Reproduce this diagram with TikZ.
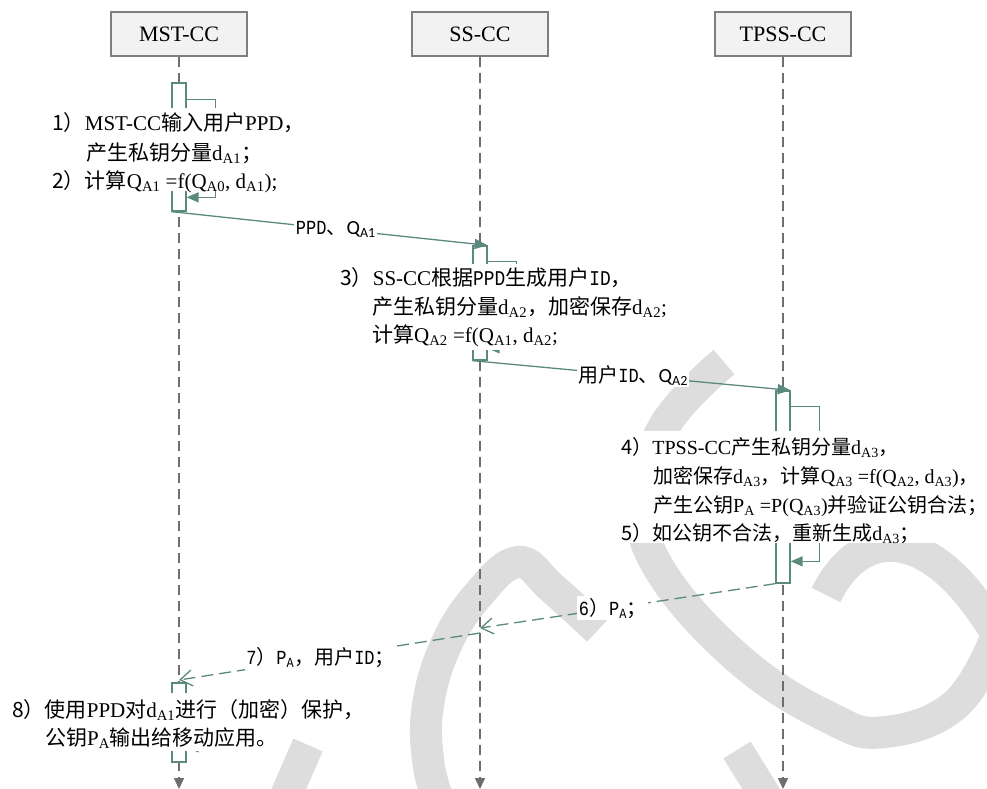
\documentclass[tikz,border=0pt]{standalone}
\usepackage{fontspec}
\setmainfont{Liberation Serif}
\newfontfamily\cjkfont{Noto Sans CJK SC}
\newfontfamily\narrowfont[FakeStretch=0.85]{Liberation Mono}
\newfontfamily\calfont{Carlito}
\usetikzlibrary{arrows.meta,calc}
\newcommand\zh[1]{{\cjkfont #1}}
\newcommand\sub[1]{\textsubscript{#1}}
\definecolor{msg}{RGB}{90,138,125}
\definecolor{life}{RGB}{110,110,110}
\definecolor{wm}{RGB}{221,221,221}
\definecolor{boxfill}{RGB}{242,242,242}
\definecolor{boxline}{RGB}{127,127,127}
\tikzset{
 actor/.style={draw=boxline, fill=boxfill, line width=2pt, minimum width=136pt, minimum height=44pt, font=\fontsize{22}{24}\selectfont, inner sep=0pt},
 lifeline/.style={draw=life, line width=1.5pt, dash pattern=on 10pt off 6pt, -{Triangle[length=11pt,width=10pt]}},
 actbar/.style={draw=msg, fill=white, line width=1.3pt, minimum width=14pt, inner sep=0pt},
 msgline/.style={draw=msg, line width=1.3pt, -{Triangle[length=13pt,width=10pt]}},
 retline/.style={draw=msg, line width=1.3pt, dash pattern=on 12pt off 6pt, -{Straight Barb[length=12pt,width=16pt]}},
 selfline/.style={draw=msg, line width=1.4pt, -{Triangle[length=12pt,width=10pt]}},
 txt/.style={anchor=base west, inner sep=0pt, font=\fontsize{21}{28}\selectfont},
 txtsm/.style={anchor=base west, inner sep=0pt, font=\fontsize{20}{28}\selectfont},
 lbl/.style={fill=white, inner sep=1.5pt, font=\fontsize{20}{24}\selectfont},
 mask/.style={fill=white},
 wmark/.style={draw=wm, line width=32pt},
}
\begin{document}
\begin{tikzpicture}[x=1pt,y=-1pt]
\clip (0,0) rectangle (987,789);
\fill[white] (0,0) rectangle (987,789);
% watermark
\draw[wmark] plot[smooth, tension=0.7] coordinates {(724,362) (665,425) (643,500) (660,570) (740,660) (830,718) (885,732) (955,705) (995,640)};
\draw[wmark] (826,595) .. controls (862,522) and (935,525) .. (1000,640);
\draw[wmark] plot[smooth, tension=0.7] coordinates {(598,630) (552,588) (518,562) (478,595) (446,645) (428,705) (428,760) (438,800)};
\draw[wmark] (737,750) -- (768,800);
\draw[wmark] (308,745) -- (284,800);
% actors
\node[actor] (mst) at (179,34) {MST-CC};
\node[actor] (ss) at (480,34) {SS-CC};
\node[actor] (tpss) at (783,34) {TPSS-CC};
\coordinate (mstend) at (179,789);
\coordinate (ssend) at (480,789);
\coordinate (tpssend) at (783,789);
\draw[lifeline] (mst.south) -- (mstend);
\draw[lifeline] (ss.south) -- (ssend);
\draw[lifeline] (tpss.south) -- (tpssend);
% activation bars
\node[actbar, minimum height=128pt] (b1) at (179,147) {};
\node[actbar, minimum height=114pt] (b2) at (480,303) {};
\node[actbar, minimum height=192pt] (b3) at (783,487) {};
\node[actbar, minimum height=79pt] (b4) at (179,722.5) {};
% self messages
\draw[selfline] ($(b1.north east)+(0,17)$) -- ++(29,0) -- ++(0,98) -- ++(-29,0);
\draw[selfline] ($(b2.north east)+(0,16)$) -- ++(29,0) -- ++(0,87) -- ++(-29,0);
\draw[selfline] ($(b3.north east)+(0,16)$) -- ++(29,0) -- ++(0,155) -- ++(-29,0);
\draw[selfline] ($(b4.north east)+(0,16)$) -- ++(29,0) -- ++(0,49) -- ++(-29,0);
% messages
\draw[msgline] (b1.south west) -- node[lbl, pos=0.52] (l1) {{\narrowfont PPD}\zh{、}{\calfont Q\sub{A1}}} (b2.north east);
\draw[msgline] (b2.south west) -- node[lbl, pos=0.505] (l2) {\zh{用户}{\narrowfont ID}\zh{、}{\calfont Q\sub{A2}}} (b3.north east);
\coordinate (r6) at (480,628);
\coordinate (r7s) at (480,633);
\coordinate (r7e) at (179,680);
\draw[retline] (b3.south west) -- node[lbl, pos=0.55] (l6) {{\narrowfont 6}\zh{）}{\narrowfont P\sub{A}}\zh{；}} (r6);
\draw[retline] (r7s) -- node[lbl, pos=0.53] (l7) {{\narrowfont 7}\zh{）}{\narrowfont P\sub{A}}\zh{，用户}{\narrowfont ID}\zh{；}} (r7e);
% masks behind text blocks
\fill[mask] (48,108) rectangle (300,191);
\fill[mask] (336,264) rectangle (662,350);
\fill[mask] (618,431) rectangle (987,543);
\fill[mask] (8,693) rectangle (275,751);
% text blocks
\node[txt] (t1a) at (52,131) {\zh{1）}MST-CC\zh{输入用户}PPD\zh{，}};
\node[txt] (t1b) at (86,160) {\zh{产生私钥分量}d\sub{A1}\zh{；}};
\node[txt] (t1c) at (52,188) {\zh{2）计算}Q\sub{A1} =f(Q\sub{A0}, d\sub{A1});};
\node[txt] (t3a) at (340,285) {\zh{3）}SS-CC\zh{根据}{\narrowfont PPD}\zh{生成用户}{\narrowfont ID}\zh{，}};
\node[txt] (t3b) at (372,314) {\zh{产生私钥分量}d\sub{A2}\zh{，加密保存}d\sub{A2};};
\node[txt] (t3c) at (372,342) {\zh{计算}Q\sub{A2} =f(Q\sub{A1}, d\sub{A2};};
\node[txtsm] (t4a) at (621,454) {\zh{4）}TPSS-CC\zh{产生私钥分量}d\sub{A3}\zh{，}};
\node[txtsm] (t4b) at (653,483) {\zh{加密保存}d\sub{A3}\zh{，计算}Q\sub{A3} =f(Q\sub{A2}, d\sub{A3})\zh{，}};
\node[txtsm] (t4c) at (653,512) {\zh{产生公钥}P\sub{A} =P(Q\sub{A3})\zh{并验证公钥合法；}};
\node[txtsm] (t5) at (621,540) {\zh{5）如公钥不合法，重新生成}d\sub{A3}\zh{；}};
\node[txt] (t8a) at (12,717) {\zh{8）使用}PPD\zh{对}d\sub{A1}\zh{进行（加密）保护，}};
\node[txt] (t8b) at (45,745) {\zh{公钥}P\sub{A}\zh{输出给移动应用。}};
\end{tikzpicture}
\end{document}
